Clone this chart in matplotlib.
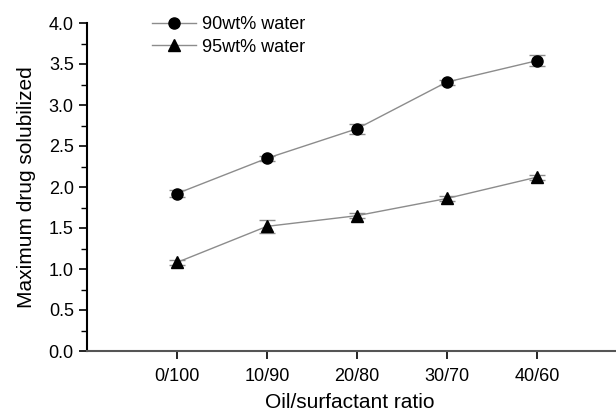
import matplotlib
matplotlib.use("Agg")
import matplotlib.pyplot as plt
from matplotlib.ticker import MultipleLocator
from matplotlib.lines import Line2D

plt.rcParams['font.family'] = ['Liberation Sans', 'DejaVu Sans']

categories = ["0/100", "10/90", "20/80", "30/70", "40/60"]
water90 = [1.92, 2.35, 2.71, 3.28, 3.54]
err90 = [0.04, 0.03, 0.06, 0.03, 0.07]
water95 = [1.08, 1.52, 1.65, 1.86, 2.12]
err95 = [0.03, 0.08, 0.03, 0.03, 0.03]

fig = plt.figure(figsize=(6.16, 4.16), dpi=100)
ax = fig.add_axes([87/616, 65/416, 1 - 87/616, 328/416])
x = list(range(1, len(categories) + 1))

line_c = '#8c8c8c'
ax.errorbar(x, water90, yerr=err90, color=line_c, lw=1, ecolor=line_c,
            elinewidth=1, capsize=5.5, capthick=1, marker='o', ms=8,
            mfc='black', mec='black')
ax.errorbar(x, water95, yerr=err95, color=line_c, lw=1, ecolor=line_c,
            elinewidth=1, capsize=5.5, capthick=1, marker='^', ms=9,
            mfc='black', mec='black')

ax.set_xlim(0, 5.88)
ax.set_ylim(0, 4.0)
ax.set_xticks(x)
ax.set_xticklabels(categories)
ax.yaxis.set_major_locator(MultipleLocator(0.5))
ax.yaxis.set_minor_locator(MultipleLocator(0.25))
ax.spines['top'].set_visible(False)
ax.spines['right'].set_visible(False)
ax.spines['left'].set_linewidth(1.5)
ax.spines['bottom'].set_linewidth(1.5)
ax.spines['bottom'].set_color('#555555')
ax.tick_params(axis='both', direction='out', labelsize=13, width=1.2, length=6)
ax.tick_params(axis='y', which='minor', direction='out', length=4, width=1)
ax.tick_params(axis='x', pad=6)
ax.set_xlabel('Oil/surfactant ratio', fontsize=15)
ax.xaxis.set_label_coords((350 - 87) / 529, -0.128)
ax.set_ylabel('Maximum drug solubilized', fontsize=15, labelpad=9)

handles = [
    Line2D([], [], color=line_c, lw=1, marker='o', ms=8, mfc='black', mec='black'),
    Line2D([], [], color=line_c, lw=1, marker='^', ms=9, mfc='black', mec='black'),
]
ax.legend(handles, ['90wt% water', '95wt% water'], loc='upper left',
          bbox_to_anchor=((152 - 87) / 529, 1.021), frameon=False, fontsize=13,
          borderpad=0, borderaxespad=0,
          handlelength=2.45, labelspacing=0.3, handletextpad=0.3)

fig.savefig('out.png', dpi=100)
